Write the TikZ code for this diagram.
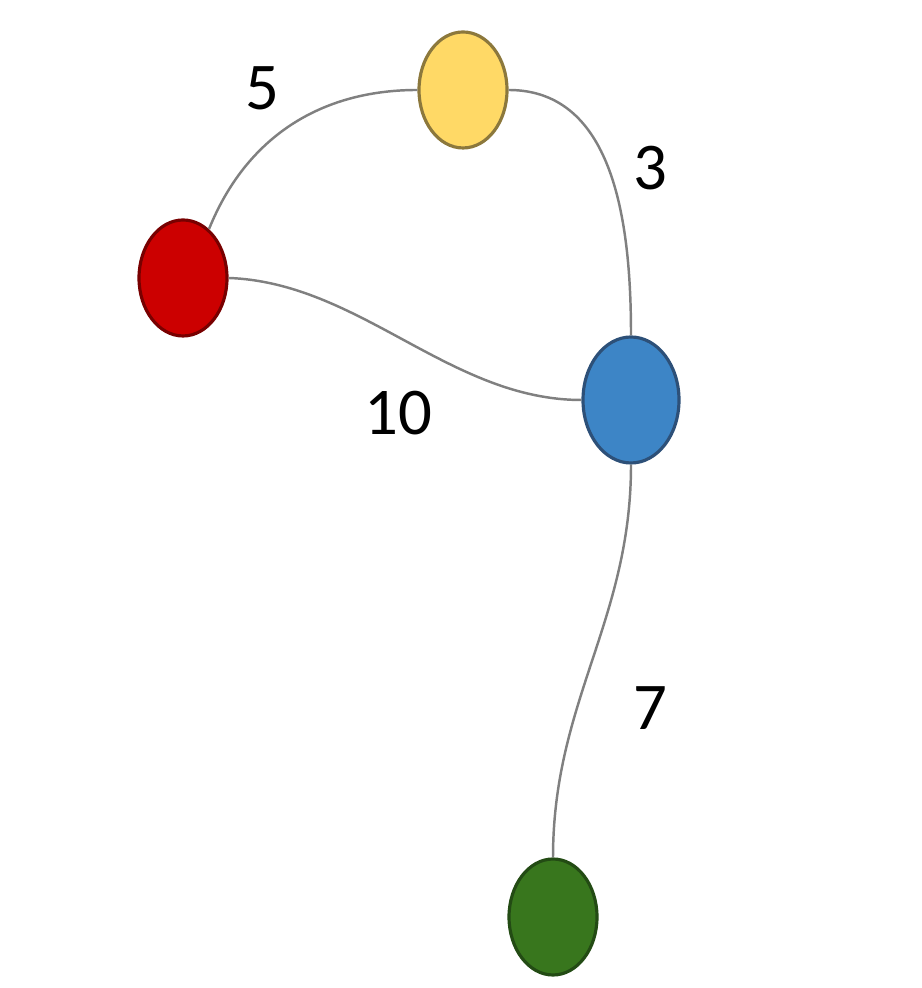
\documentclass[tikz,border=0pt]{standalone}
\usepackage{fontspec}
\setmainfont{Carlito}
\usetikzlibrary{shapes.geometric}
\definecolor{vyellow}{RGB}{255,217,102}
\definecolor{vyellowdk}{RGB}{140,120,60}
\definecolor{vred}{RGB}{204,0,0}
\definecolor{vreddk}{RGB}{120,0,0}
\definecolor{vblue}{RGB}{61,133,198}
\definecolor{vbluedk}{RGB}{45,80,120}
\definecolor{vgreen}{RGB}{56,118,29}
\definecolor{vgreendk}{RGB}{35,75,20}
\definecolor{edgegray}{RGB}{128,128,128}
\tikzset{
  vertex/.style={ellipse, draw=#1, line width=0.9pt, minimum width=8.8mm, minimum height=11.6mm, inner sep=0pt},
  link/.style={draw=edgegray, line width=0.7pt},
  weight/.style={font=\fontsize{19}{21}\selectfont, text=black},
}
\begin{document}
\begin{tikzpicture}
  \useasboundingbox (0,0) rectangle (9.21,9.88);
  % vertices
  \node[vertex=vyellowdk, fill=vyellow] (y) at (4.63,8.98) {};
  \node[vertex=vreddk, fill=vred] (r) at (1.83,7.10) {};
  \node[vertex=vbluedk, fill=vblue, minimum width=9.6mm, minimum height=12.6mm] (b) at (6.31,5.88) {};
  \node[vertex=vgreendk, fill=vgreen] (g) at (5.53,0.71) {};

  % edges
  \draw[link] (r.62) to[out=68, in=180] (y.west);
  \draw[link] (y.east) to[out=0, in=90] (b.north);
  \draw[link] (r.east) to[out=-2, in=180, looseness=0.9] (b.west);
  \draw[link] (b.south) to[out=-90, in=90] (g.north);

  % weights
  \node[weight] (w5) at (2.62,9.00) {5};
  \node[weight] (w3) at (6.50,8.20) {3};
  \node[weight] (w10) at (3.98,5.75) {10};
  \node[weight] (w7) at (6.50,2.80) {7};
\end{tikzpicture}
\end{document}
